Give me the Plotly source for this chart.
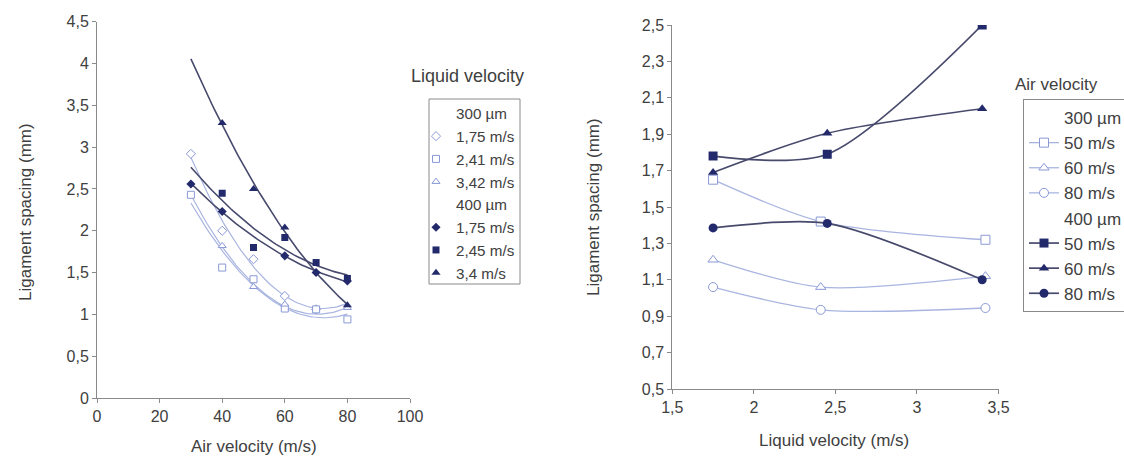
import numpy as np
import plotly.graph_objects as go

# ---------------- Left chart data (air velocity vs ligament spacing) ----------------
air_300_175_x = [30, 40, 50, 60, 70]
air_300_175_y = [2.92, 2.00, 1.66, 1.22, 1.06]
air_300_241_x = [30, 40, 50, 60, 70, 80]
air_300_241_y = [2.43, 1.56, 1.42, 1.07, 1.06, 0.94]
air_300_342_x = [40, 50, 60, 80]
air_300_342_y = [1.82, 1.33, 1.12, 1.08]
air_400_175_x = [30, 40, 60, 70, 80]
air_400_175_y = [2.56, 2.23, 1.70, 1.50, 1.40]
air_400_245_x = [40, 50, 60, 70, 80]
air_400_245_y = [2.45, 1.80, 1.92, 1.62, 1.43]
air_400_34_x = [40, 50, 60, 80]
air_400_34_y = [3.29, 2.50, 2.04, 1.11]

# ---------------- Right chart data (liquid velocity vs ligament spacing) ----------------
liq_300_x = [1.75, 2.41, 3.42]
liq_400_x = [1.75, 2.45, 3.40]
liq_300_50_y = [1.65, 1.42, 1.32]
liq_300_60_y = [1.21, 1.06, 1.12]
liq_300_80_y = [1.06, 0.935, 0.945]
liq_400_50_y = [1.78, 1.79, 2.50]
liq_400_60_y = [1.69, 1.905, 2.04]
liq_400_80_y = [1.385, 1.41, 1.10]

# tick labels
left_x_ticks = [0, 20, 40, 60, 80, 100]
left_y_ticks = [0, 0.5, 1, 1.5, 2, 2.5, 3, 3.5, 4, 4.5]
left_y_text = ["0", "0,5", "1", "1,5", "2", "2,5", "3", "3,5", "4", "4,5"]
right_x_ticks = [1.5, 2, 2.5, 3, 3.5]
right_x_text = ["1,5", "2", "2,5", "3", "3,5"]
right_y_ticks = [0.5, 0.7, 0.9, 1.1, 1.3, 1.5, 1.7, 1.9, 2.1, 2.3, 2.5]
right_y_text = ["0,5", "0,7", "0,9", "1,1", "1,3", "1,5", "1,7", "1,9", "2,1", "2,3", "2,5"]

LIGHT = "#8a99d6"
LIGHT_LINE = "#a9b5e0"
DARK = "#232a6c"
DARK_LINE = "#474a6c"
FONT = "Liberation Sans, Arial, sans-serif"
TXT = "#404040"
AX = "#8a8a8a"

fig = go.Figure()

def trend(xs, ys, color, width):
    c = np.polyfit(xs, ys, 2)
    xx = np.linspace(30, 80, 60)
    fig.add_trace(go.Scatter(x=xx, y=np.polyval(c, xx), mode="lines",
                             line=dict(color=color, width=width),
                             showlegend=False, hoverinfo="skip",
                             xaxis="x", yaxis="y"))

trend(air_300_175_x, air_300_175_y, LIGHT_LINE, 1.2)
trend(air_300_241_x, air_300_241_y, LIGHT_LINE, 1.2)
trend(air_300_342_x, air_300_342_y, LIGHT_LINE, 1.2)
trend(air_400_175_x, air_400_175_y, DARK_LINE, 1.6)
trend(air_400_245_x, air_400_245_y, DARK_LINE, 1.6)
trend(air_400_34_x, air_400_34_y, DARK_LINE, 1.6)

def header(name, legend, xaxis, yaxis):
    fig.add_trace(go.Scatter(x=[None], y=[None], mode="markers", name=name,
                             marker=dict(size=1, color="rgba(0,0,0,0)"),
                             legend=legend, xaxis=xaxis, yaxis=yaxis))

def pts(xs, ys, name, symbol, color, size, open_):
    fig.add_trace(go.Scatter(
        x=xs, y=ys, mode="markers", name=name,
        marker=dict(symbol=symbol, size=size,
                    color="white" if open_ else color,
                    line=dict(color=color, width=1 if open_ else 0)),
        legend="legend", xaxis="x", yaxis="y"))

header("300 µm", "legend", "x", "y")
pts(air_300_175_x, air_300_175_y, "1,75 m/s", "diamond", LIGHT, 7, True)
pts(air_300_241_x, air_300_241_y, "2,41 m/s", "square", LIGHT, 7, True)
pts(air_300_342_x, air_300_342_y, "3,42 m/s", "triangle-up", LIGHT, 7, True)
header("400 µm", "legend", "x", "y")
pts(air_400_175_x, air_400_175_y, "1,75 m/s", "diamond", DARK, 7, False)
pts(air_400_245_x, air_400_245_y, "2,45 m/s", "square", DARK, 7, False)
pts(air_400_34_x, air_400_34_y, "3,4 m/s", "triangle-up", DARK, 8, False)

def sline(xs, ys, name, symbol, color, lcolor, open_):
    fig.add_trace(go.Scatter(
        x=xs, y=ys, mode="lines+markers", name=name,
        line=dict(color=lcolor, width=1.3 if open_ else 1.7, shape="spline", smoothing=0.8),
        marker=dict(symbol=symbol, size=9,
                    color="white" if open_ else color,
                    line=dict(color=color, width=1 if open_ else 0)),
        legend="legend2", xaxis="x2", yaxis="y2"))

header("300 µm", "legend2", "x2", "y2")
sline(liq_300_x, liq_300_50_y, "50 m/s", "square", LIGHT, LIGHT_LINE, True)
sline(liq_300_x, liq_300_60_y, "60 m/s", "triangle-up", LIGHT, LIGHT_LINE, True)
sline(liq_300_x, liq_300_80_y, "80 m/s", "circle", LIGHT, LIGHT_LINE, True)
header("400 µm", "legend2", "x2", "y2")
sline(liq_400_x, liq_400_50_y, "50 m/s", "square", DARK, DARK_LINE, False)
sline(liq_400_x, liq_400_60_y, "60 m/s", "triangle-up", DARK, DARK_LINE, False)
sline(liq_400_x, liq_400_80_y, "80 m/s", "circle", DARK, DARK_LINE, False)

W, H = 1124, 460
def px(v): return v / W
def py(v): return 1 - v / H

axis_common = dict(showgrid=False, zeroline=False, showline=True, linecolor=AX,
                   linewidth=1, ticks="outside", ticklen=4, tickcolor=AX,
                   tickfont=dict(family=FONT, size=16, color=TXT))

fig.update_layout(
    width=W, height=H, margin=dict(l=0, r=0, t=0, b=0, autoexpand=False),
    paper_bgcolor="white", plot_bgcolor="white",
    font=dict(family=FONT, color=TXT),
    xaxis=dict(domain=[px(97), px(410)], range=[0, 100], tickvals=left_x_ticks,
               anchor="y", **axis_common),
    yaxis=dict(domain=[py(398), py(21.7)], range=[0, 4.5], tickvals=left_y_ticks,
               ticktext=left_y_text, anchor="x", **axis_common),
    xaxis2=dict(domain=[px(672.3), px(998.5)], range=[1.5, 3.5], tickvals=right_x_ticks,
                ticktext=right_x_text, anchor="y2", **axis_common),
    yaxis2=dict(domain=[py(389), py(25)], range=[0.5, 2.5], tickvals=right_y_ticks,
                ticktext=right_y_text, anchor="x2", **axis_common),
    legend=dict(xref="container", yref="container", x=px(416), y=py(97),
                xanchor="left", yanchor="top",
                borderwidth=0, bgcolor="rgba(0,0,0,0)",
                font=dict(family=FONT, size=15.2, color=TXT), itemwidth=30,
                tracegroupgap=0),
    legend2=dict(xref="container", yref="container", x=px(1023), y=py(99),
                 xanchor="left", yanchor="top",
                 bordercolor=AX, borderwidth=1, bgcolor="white",
                 font=dict(family=FONT, size=17, color=TXT), itemwidth=30,
                 tracegroupgap=0),
    showlegend=True,
)

# left legend frame
fig.add_shape(type="rect", xref="paper", yref="paper",
              x0=px(429), x1=px(520), y0=py(284), y1=py(99),
              line=dict(color=AX, width=1), fillcolor="rgba(0,0,0,0)", layer="below")

ann = dict(xref="paper", yref="paper", showarrow=False, xanchor="center", yanchor="middle")
fig.add_annotation(text="Ligament spacing (mm)", x=px(25), y=py(212), textangle=-90,
                   font=dict(family=FONT, size=17, color=TXT), **ann)
fig.add_annotation(text="Air velocity (m/s)", x=px(254), y=py(446),
                   font=dict(family=FONT, size=17, color=TXT), **ann)
fig.add_annotation(text="Ligament spacing (mm)", x=px(594), y=py(207), textangle=-90,
                   font=dict(family=FONT, size=17, color=TXT), **ann)
fig.add_annotation(text="Liquid velocity (m/s)", x=px(834), y=py(440),
                   font=dict(family=FONT, size=17, color=TXT), **ann)
fig.add_annotation(text="Liquid velocity", x=px(467), y=py(76),
                   font=dict(family=FONT, size=18, color=TXT), **ann)
fig.add_annotation(text="Air velocity", x=px(1056), y=py(84),
                   font=dict(family=FONT, size=17, color=TXT), **ann)

fig.write_html("out.html")
